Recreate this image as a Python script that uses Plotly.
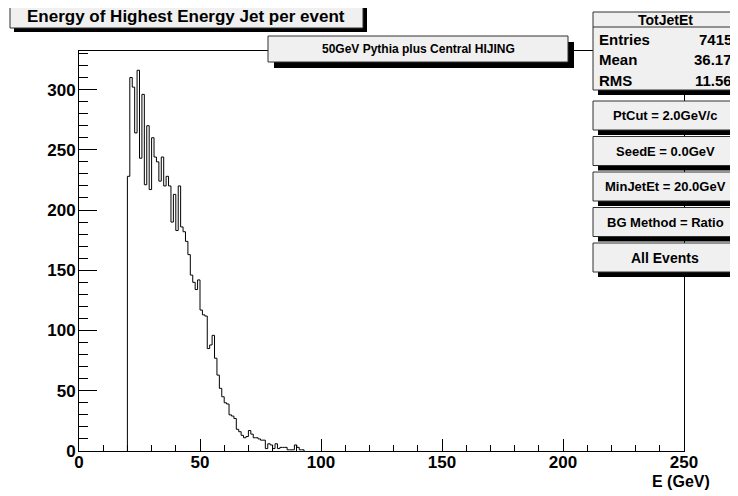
import plotly.graph_objects as go

# histogram: lower bin edges (GeV), 1 GeV bins, and counts per bin
bin_edges = [20, 21, 22, 23, 24, 25, 26, 27, 28, 29,
             30, 31, 32, 33, 34, 35, 36, 37, 38, 39,
             40, 41, 42, 43, 44, 45, 46, 47, 48, 49,
             50, 51, 52, 53, 54, 55, 56, 57, 58, 59,
             60, 61, 62, 63, 64, 65, 66, 67, 68, 69,
             70, 71, 72, 73, 74, 75, 76, 77, 78, 79,
             80, 81, 82, 83, 84, 85, 86, 87, 88, 89,
             90, 91, 92, 93]
jet_counts = [228, 310, 302, 264, 316, 243, 296, 221, 270, 217,
              260, 244, 240, 224, 244, 220, 228, 220, 190, 213,
              183, 220, 186, 182, 174, 163, 146, 140, 134, 142,
              117, 113, 112, 85, 88, 96, 77, 63, 52, 45,
              40, 39, 30, 29, 27, 18, 16, 13, 11, 12,
              17, 14, 11, 11, 10, 9, 9, 2, 6, 5,
              2, 6, 2, 3, 3, 3, 1, 1, 1, 5,
              3, 1, 1]

x_ticks = [0, 50, 100, 150, 200, 250]
y_ticks = [0, 50, 100, 150, 200, 250, 300]

stats_labels = ["Entries", "Mean", "RMS"]
stats_values = ["7415", "36.17", "11.56"]
cut_labels = ["PtCut = 2.0GeV/c", "SeedE = 0.0GeV", "MinJetEt = 20.0GeV",
              "BG Method = Ratio", "All Events"]

# the page puts the figure 8px in from the window corner
OFF = 8
W, H = 738 - OFF, 496 - OFF
L, R, T, B = 79 - OFF, 54, 51 - OFF, 45
PW, PH = W - L - R, H - T - B
FONT = "Liberation Sans"
BOXFILL = "#f0f0f0"


def px(x, y):
    # window pixel position (from top-left) -> paper coordinates
    x, y = x - OFF, y - OFF
    return (x - L) / PW, (H - B - y) / PH


def pave(fig, x0, y0, x1, y1, sd=5):
    a0, b0 = px(x0 + sd, y1 + sd)
    a1, b1 = px(x1 + sd, y0 + sd)
    fig.add_shape(type="rect", xref="paper", yref="paper", x0=a0, y0=b0, x1=a1, y1=b1,
                  fillcolor="black", line=dict(width=0))
    a0, b0 = px(x0, y1)
    a1, b1 = px(x1, y0)
    fig.add_shape(type="rect", xref="paper", yref="paper", x0=a0, y0=b0, x1=a1, y1=b1,
                  fillcolor=BOXFILL, line=dict(color="#303030", width=1))


def text(fig, s, x, y, size, anchor="center"):
    a, b = px(x, y)
    fig.add_annotation(x=a, y=b, xref="paper", yref="paper", text=s, showarrow=False,
                       xanchor=anchor, yanchor="middle",
                       font=dict(family=FONT, size=size, color="black", weight="bold"))


# outline of the histogram (step line)
xs = [bin_edges[0]] + bin_edges[:-1] + [bin_edges[-1]]
ys = [0] + jet_counts + [0]

fig = go.Figure(go.Scatter(x=xs, y=ys, mode="lines", line_shape="hv",
                           line=dict(color="black", width=1), showlegend=False,
                           cliponaxis=False))

axis_common = dict(showgrid=False, zeroline=False, showline=True, linecolor="black",
                   linewidth=1, mirror=True, ticks="inside", tickcolor="black",
                   tickfont=dict(family=FONT, size=17, color="black", weight="bold"))
fig.update_xaxes(range=[0, 250], tickvals=x_ticks, ticklen=12, ticklabelstandoff=-4,
                 minor=dict(ticks="inside", ticklen=6, dtick=10, tickcolor="black"),
                 **axis_common)
fig.update_yaxes(range=[0, 332], tickvals=y_ticks, ticklen=18, ticklabelstandoff=-1,
                 minor=dict(ticks="inside", ticklen=9, dtick=10, tickcolor="black"),
                 **axis_common)

fig.update_layout(width=W, height=H, margin=dict(l=L, r=R, t=T, b=B),
                  paper_bgcolor="white", plot_bgcolor="white")

# title and subtitle boxes
pave(fig, 10, 4, 363, 28, sd=4)
text(fig, "Energy of Highest Energy Jet per event", 186, 16, 17)
pave(fig, 268, 36, 568, 62, sd=6)
text(fig, "50GeV Pythia plus Central HIJING", 418, 49, 12)

# stats box
pave(fig, 593, 12, 737, 90, sd=5)
a0, b0 = px(593, 27)
a1, _ = px(737, 27)
fig.add_shape(type="line", xref="paper", yref="paper", x0=a0, y0=b0, x1=a1, y1=b0,
              line=dict(color="#303030", width=1))
text(fig, "TotJetEt", 665, 20, 14)
for i, (lab, val) in enumerate(zip(stats_labels, stats_values)):
    yy = 40 + 20 * i
    text(fig, lab, 597, yy, 15, anchor="left")
    text(fig, val, 734, yy, 15, anchor="right")

# cut description boxes
for i, lab in enumerate(cut_labels):
    y0 = 101 + 35.5 * i
    pave(fig, 593, y0, 737, y0 + 29, sd=5)
    text(fig, lab, 665, y0 + 14.5, 13 if i < 4 else 14)

# axis title
text(fig, "E (GeV)", 712, 482, 16, anchor="right")

fig.write_html("out.html")
